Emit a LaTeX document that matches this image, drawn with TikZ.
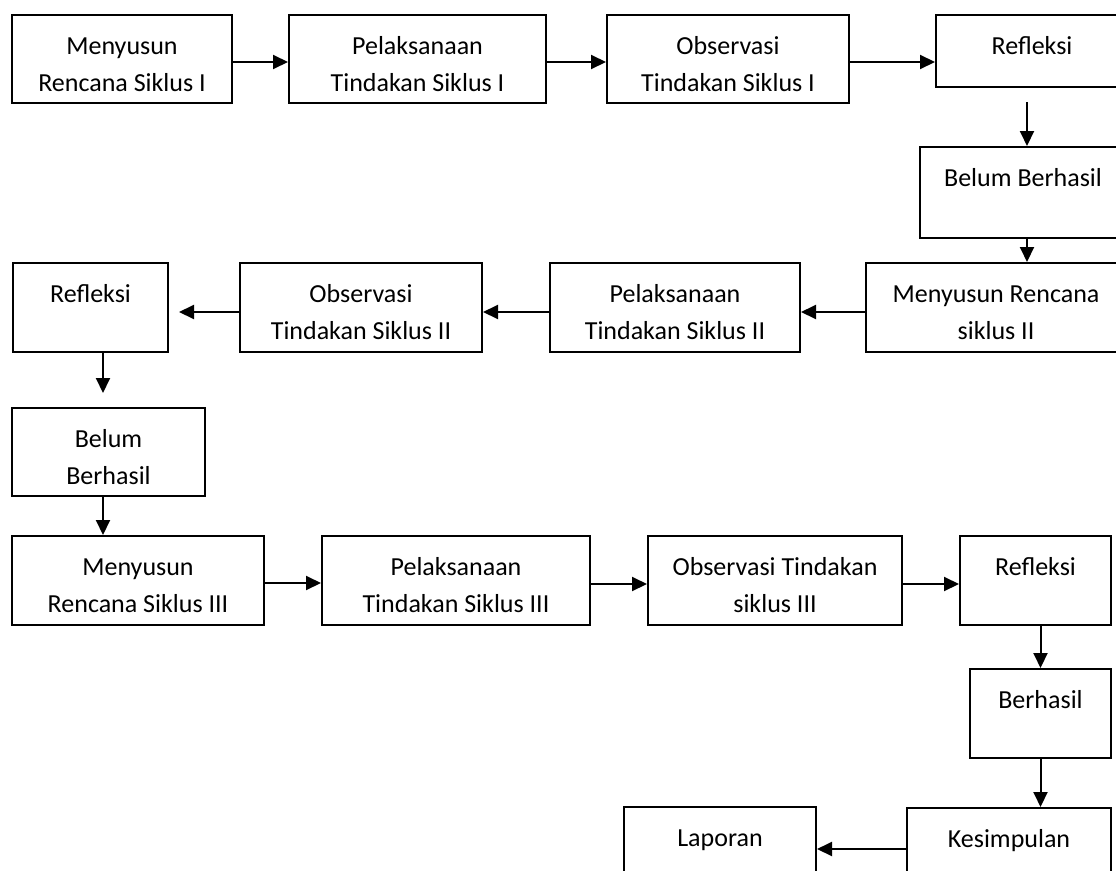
\documentclass[tikz,border=0pt]{standalone}
\usepackage{fontspec}
\setmainfont{Carlito}
\usetikzlibrary{arrows.meta}
\tikzset{
  box/.style={draw, line width=2pt, inner sep=0pt, anchor=north west, align=center,
    text height=39pt, font=\fontsize{26}{37}\selectfont},
  twoline/.style={text height=76pt},
  arr/.style={line width=2pt, -{Triangle[length=15pt,width=14pt]}}
}
\begin{document}
\begin{tikzpicture}[x=1pt,y=-1pt]
\useasboundingbox (0,0) rectangle (1116,870);
\fill[white] (0,0) rectangle (1116,870);
\clip (0,0) rectangle (1116,870);
% row 1
\node[box, twoline, minimum width=220pt, text depth=12pt] (m1) at (11,14) {Menyusun\\Rencana Siklus I};
\node[box, twoline, minimum width=257pt, text depth=12pt] (p1) at (288,14) {Pelaksanaan\\Tindakan Siklus I};
\node[box, twoline, minimum width=242pt, text depth=12pt] (o1) at (606,14) {Observasi\\Tindakan Siklus I};
\node[box, minimum width=192pt, text depth=33pt] (r1) at (935,14) {Refleksi};
\node[box, minimum width=206pt, text depth=52pt] (bb1) at (919,146) {Belum Berhasil};
% row 2
\node[box, twoline, minimum width=260pt, text depth=13pt] (m2) at (865,262) {Menyusun Rencana\\siklus II};
\node[box, twoline, minimum width=250pt, text depth=13pt] (p2) at (549,262) {Pelaksanaan\\Tindakan Siklus II};
\node[box, twoline, minimum width=242pt, text depth=13pt] (o2) at (239,262) {Observasi\\Tindakan Siklus II};
\node[box, minimum width=155pt, text depth=50pt] (r2) at (12,262) {Refleksi};
\node[box, twoline, minimum width=193pt, text depth=12pt] (bb2) at (11,407) {Belum\\Berhasil};
% row 3
\node[box, twoline, minimum width=252pt, text depth=13pt] (m3) at (11,535) {Menyusun\\Rencana Siklus III};
\node[box, twoline, minimum width=268pt, text depth=13pt] (p3) at (321,535) {Pelaksanaan\\Tindakan Siklus III};
\node[box, twoline, minimum width=254pt, text depth=13pt] (o3) at (647,535) {Observasi Tindakan\\siklus III};
\node[box, minimum width=151pt, text depth=50pt] (r3) at (959,535) {Refleksi};
\node[box, minimum width=141pt, text depth=50pt] (bh) at (969,668) {Berhasil};
\node[box, minimum width=204pt, text depth=50pt] (ks) at (906,807) {Kesimpulan};
\node[box, minimum width=192pt, text depth=50pt] (lp) at (623,806) {Laporan};
% helper coordinates
\coordinate (c1) at (1027,102);
\coordinate (c2) at (103,393);
% connectors
\draw[arr] ([yshift=-3pt]m1.east) -- ([yshift=-3pt]p1.west);
\draw[arr] ([yshift=-3pt]p1.east) -- ([yshift=-3pt]o1.west);
\draw[arr] ([yshift=-3pt]o1.east) -- ([yshift=-3pt]o1.east -| r1.west);
\draw[arr] (c1) -- (c1 |- bb1.north);
\draw[arr] (c1 |- bb1.south) -- (c1 |- m2.north);
\draw[arr] ([yshift=-4.5pt]m2.west) -- ([yshift=-4.5pt]p2.east);
\draw[arr] ([yshift=-4.5pt]p2.west) -- ([yshift=-4.5pt]o2.east);
\draw[arr] ([yshift=-4.5pt]o2.west) -- ([xshift=10pt,yshift=-4.5pt]r2.east);
\draw[arr] (c2 |- r2.south) -- (c2);
\draw[arr] (c2 |- bb2.south) -- (c2 |- m3.north);
\draw[arr] ([yshift=-2.5pt]m3.east) -- ([yshift=-2.5pt]p3.west);
\draw[arr] ([yshift=-3.5pt]p3.east) -- ([yshift=-3.5pt]o3.west);
\draw[arr] ([yshift=-3.5pt]o3.east) -- ([yshift=-3.5pt]r3.west);
\draw[arr] (bh.north |- r3.south) -- (bh.north);
\draw[arr] (bh.south) -- (bh.south |- ks.north);
\draw[arr] ([yshift=3.5pt]ks.west) -- ([yshift=3.5pt]ks.west -| lp.east);
\end{tikzpicture}
\end{document}
